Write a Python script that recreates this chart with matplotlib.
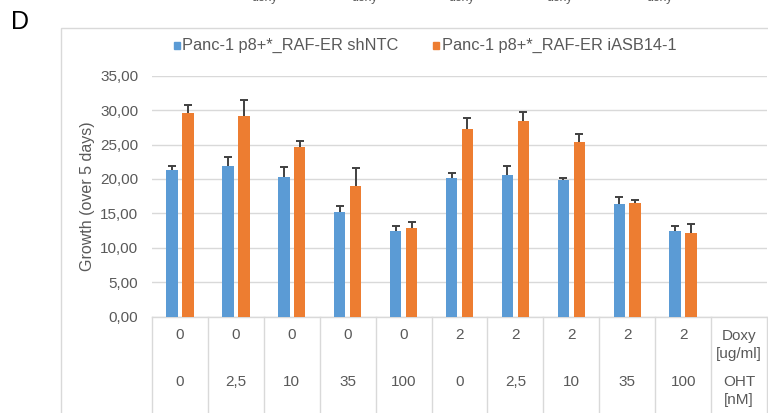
import matplotlib
matplotlib.use("Agg")
import matplotlib.pyplot as plt
from matplotlib.patches import Rectangle
import numpy as np

plt.rcParams['font.family'] = ['Liberation Sans', 'DejaVu Sans']

# Treatment conditions
doxy = ["0", "0", "0", "0", "0", "2", "2", "2", "2", "2"]
oht = ["0", "2,5", "10", "35", "100", "0", "2,5", "10", "35", "100"]

series_names = ["Panc-1 p8+*_RAF-ER shNTC", "Panc-1 p8+*_RAF-ER iASB14-1"]
shntc = [21.3, 21.95, 20.25, 15.2, 12.45, 20.1, 20.55, 19.85, 16.4, 12.4]
shntc_err = [0.6, 1.25, 1.45, 0.9, 0.65, 0.75, 1.35, 0.25, 1.05, 0.8]
iasb = [29.55, 29.2, 24.6, 19.0, 12.85, 27.2, 28.4, 25.35, 16.5, 12.2]
iasb_err = [1.25, 2.2, 0.9, 2.6, 0.85, 1.6, 1.4, 1.2, 0.45, 1.2]

yticks = [0, 5, 10, 15, 20, 25, 30, 35]

W, H = 768, 413
fig = plt.figure(figsize=(W / 100, H / 100), dpi=100)

def fx(px):
    return px / W

def fy(py):
    return 1 - py / H

left, right, top, bottom = 152, 767, 75.7, 316.7
ax = fig.add_axes([fx(left), fy(bottom), fx(right - left), (bottom - top) / H])

grid_c = "#d9d9d9"
text_c = "#595959"
blue = "#5B9BD5"
orange = "#ED7D31"
fs = 11

n = len(doxy)
x = np.arange(n)
bw = 0.205
off = 0.143

for vals, errs, col, sign in [(shntc, shntc_err, blue, -1), (iasb, iasb_err, orange, 1)]:
    xs = x + sign * off
    ax.bar(xs, vals, width=bw, color=col, zorder=3)
    eb = ax.errorbar(xs, vals, yerr=[np.zeros(n), errs], fmt='none',
                     ecolor="#404040", elinewidth=1.4, capsize=2.6, capthick=1.4, zorder=4)
    eb[1][0].set_visible(False)

ax.set_xlim(-0.5, n + 0.5)
ax.set_ylim(0, 35)
ax.set_yticks(yticks)
ax.set_yticklabels([f"{v:.2f}".replace(".", ",") for v in yticks], color=text_c, fontsize=fs)
ax.tick_params(axis='y', length=0, pad=10)
ax.set_xticks([])
ax.grid(axis='y', color=grid_c, lw=1.0, zorder=0)
for s in ax.spines.values():
    s.set_visible(False)

ax.set_ylabel("Growth (over 5 days)", color=text_c, fontsize=11.5)
ax.yaxis.set_label_coords((95 - left) / (right - left), 0.5)

# Category table below the plot
trans = ax.get_xaxis_transform()
ah = bottom - top
def ay(py):
    return -(py - bottom) / ah

for b in np.arange(-0.5, n + 1.0, 1.0):
    ax.plot([b, b], [0, ay(H + 5)], color=grid_c, lw=1.0, transform=trans, clip_on=False)
ax.plot([-0.5, n + 0.5], [0, 0], color=grid_c, lw=1.0, transform=trans, clip_on=False)

def cell(i, py, s):
    ax.text(i, ay(py), s, ha='center', va='center', color=text_c, fontsize=fs,
            transform=trans, clip_on=False)

for i in range(n):
    cell(i, 335, doxy[i])
    cell(i, 381.5, oht[i])
cell(n, 336, "Doxy")
cell(n, 354, "[ug/ml]")
cell(n, 381.5, "OHT")
cell(n, 400, "[nM]")

# Legend
legend_items = [(176.5, series_names[0], blue), (436, series_names[1], orange)]
for px, label, col in legend_items:
    fig.patches.append(Rectangle((fx(px - 3), fy(48.5)), 6 / W, 6 / H, color=col,
                                 transform=fig.transFigure))
    fig.text(fx(px + 6), fy(45.5), label, ha='left', va='center', color=text_c, fontsize=11.8)

# Chart frame
fig.patches.append(Rectangle((fx(61), fy(H + 10)), fx(W), (H + 10 - 28) / H, fill=False,
                             edgecolor=grid_c, lw=1.0, transform=fig.transFigure))

# Panel letter
fig.text(fx(11), fy(22), "D", ha='left', va='center', color='black', fontsize=18)

# Labels from the panel above
for px in [265, 365, 462, 560, 660]:
    fig.text(fx(px), fy(0.5), "doxy", ha='center', va='baseline', color=text_c, fontsize=9)

fig.savefig("out.png", dpi=100)
